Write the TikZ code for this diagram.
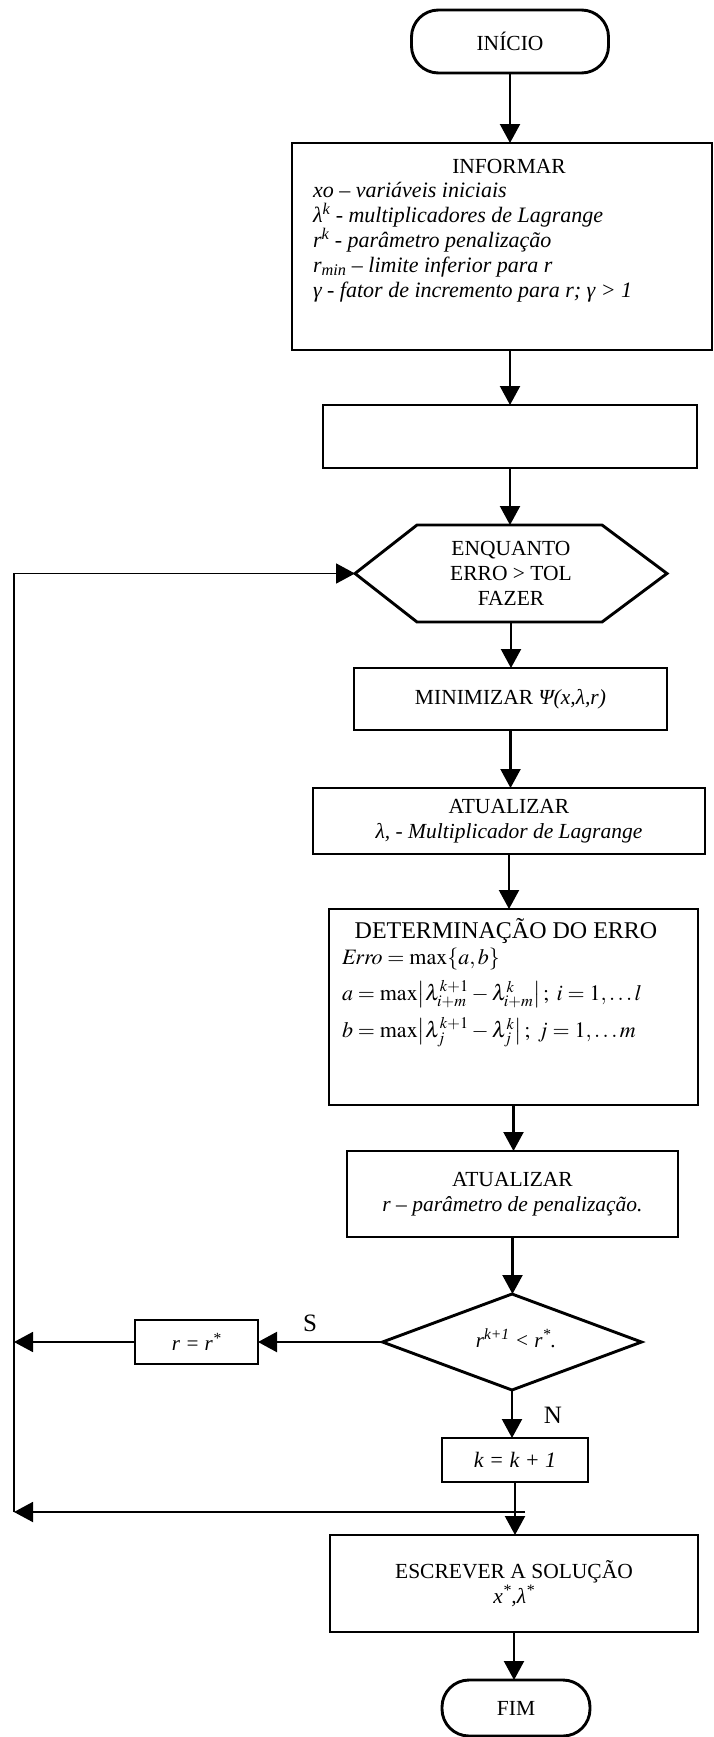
\documentclass[tikz,border=0pt]{standalone}
\usepackage{amsmath}
\usepackage{mathptmx}
\usepackage[no-math]{fontspec}
\setmainfont{Liberation Serif}
\usetikzlibrary{arrows.meta,shapes.geometric}

\begin{document}
\begin{tikzpicture}[x=1pt,y=-1pt,
  every node/.style={inner sep=0pt, outer sep=0pt},
  sz/.style 2 args={minimum width=#1pt, minimum height=#2pt},
  box/.style={draw, line width=2.9pt},
  term/.style={draw, line width=2.9pt, rounded corners=27pt},
  txt/.style={font=\fontsize{21.5}{25}\selectfont, align=center},
  ttl/.style={font=\fontsize{21.5}{25}\selectfont},
  note/.style={font=\fontsize{22}{25}\selectfont\itshape, anchor=base west},
  eqn/.style={font=\fontsize{22}{25}\selectfont, anchor=base west},
  small/.style={font=\fontsize{21}{24}\selectfont\itshape},
  flow/.style={line width=2.2pt, -{Triangle[length=19pt,width=20pt]}},
  loopflow/.style={line width=1.8pt, -{Triangle[length=19pt,width=20pt]}},
  lbl/.style={font=\fontsize{25}{28}\selectfont}]

\useasboundingbox (0,0) rectangle (714,1737);

% start
\node[term, txt, sz={197}{63}] (inicio) at (510,41.5) {INÍCIO};

% input data
\node[box, sz={420}{207}] (informar) at (502,246.5) {};
\node[ttl, anchor=base] (informarT) at (509,173) {INFORMAR};
\node[note] (inf1) at (313,197) {xo – variáveis iniciais};
\node[note] (inf2) at (313,222) {λ\textsuperscript{k} - multiplicadores de Lagrange};
\node[note] (inf3) at (313,247) {r\textsuperscript{k} - parâmetro penalização};
\node[note] (inf4) at (313,272) {r\textsubscript{min} – limite inferior para r};
\node[note] (inf5) at (313,297) {γ - fator de incremento para r; γ > 1};

% empty process box
\node[box, sz={374}{63}] (blank) at (510,436.5) {};

% loop header (hexagon)
\coordinate (hexW) at (355,573.5);
\coordinate (hexN) at (511,525);
\coordinate (hexS) at (511,622);
\draw[box] (hexW) -- (417,525) -- (602,525) -- (667,573.5) -- (602,622) -- (417,622) -- cycle;
\node[txt] (enq) at (511,573) {ENQUANTO\\ERRO > TOL\\FAZER};

% loop body
\node[box, txt, sz={313}{62}] (minim) at (510.5,699) {MINIMIZAR \textit{Ψ(x,λ,r)}};
\node[box, txt, sz={392}{66}] (atul) at (509,821) {ATUALIZAR\\\textit{λ, - Multiplicador de Lagrange}};

\node[box, sz={369}{196}] (determ) at (513.5,1007) {};
\node[ttl, font=\fontsize{24}{27}\selectfont, anchor=base] (detT) at (506,938) {DETERMINAÇÃO DO ERRO};
\node[eqn] (eq1) at (342,964) {$\mathit{Erro}=\max\{a,b\}$};
\node[eqn] (eq2) at (342,1000) {$a=\max\bigl|\lambda^{k+1}_{i+m}-\lambda^{k}_{i+m}\bigr|\,;\;i=1,\ldots l$};
\node[eqn] (eq3) at (342,1037) {$b=\max\bigl|\lambda^{k+1}_{j}-\lambda^{k}_{j}\bigr|\,;\;j=1,\ldots m$};

\node[box, txt, sz={331}{86}] (atur) at (512.5,1194) {ATUALIZAR\\\textit{r – parâmetro de penalização.}};

% decision
\node[draw, diamond, line width=2.9pt, minimum width=259pt, minimum height=96pt] (test) at (512,1342) {};
\node[small] (testT) at (516,1338) {r\textsuperscript{k+1} < r\textsuperscript{*}.};
\node[lbl] (yes) at (310,1323) {S};
\node[lbl] (no) at (553,1415) {N};

\node[box, small, sz={123}{44}] (rset) at (196.5,1342) {r = r\textsuperscript{*}};
\node[box, small, font=\fontsize{22}{24}\selectfont\itshape, sz={146}{44}] (kinc) at (515,1460) {k = k + 1};

% output and end
\node[box, txt, sz={368}{97}] (escr) at (514,1583.5) {ESCREVER A SOLUÇÃO\\\textit{x\textsuperscript{*},λ\textsuperscript{*}}};
\node[term, txt, sz={148}{56}] (fim) at (516,1708) {FIM};

% main spine
\draw[flow] (inicio.south) -- (inicio.south |- informar.north);
\draw[flow] (blank.north |- informar.south) -- (blank.north);
\draw[flow] (blank.south) -- (blank.south |- hexN);
\draw[flow] (hexS) -- (hexS |- minim.north);
\draw[flow] (minim.south) -- (minim.south |- atul.north);
\draw[flow] (atul.south) -- (atul.south |- determ.north);
\draw[flow] (determ.south) -- (determ.south |- atur.north);
\draw[flow] (atur.south) -- (atur.south |- test.north);
\draw[flow] (test.south) -- (test.south |- kinc.north);
\draw[flow] (kinc.south) -- (kinc.south |- escr.north);
\draw[flow] (escr.south) -- (escr.south |- fim.north);

% branch S and loop back
\coordinate (lbot) at (14,1512);
\coordinate (ltop) at (14,573.5);
\coordinate (spine) at (525,1512);
\draw[flow] (test.west) -- (rset.east);
\draw[loopflow] (rset.west) -- (rset.west -| lbot);
\draw[loopflow] (spine) -- (lbot);
\draw[loopflow] (lbot) -- (ltop) -- (hexW);
\end{tikzpicture}
\end{document}
